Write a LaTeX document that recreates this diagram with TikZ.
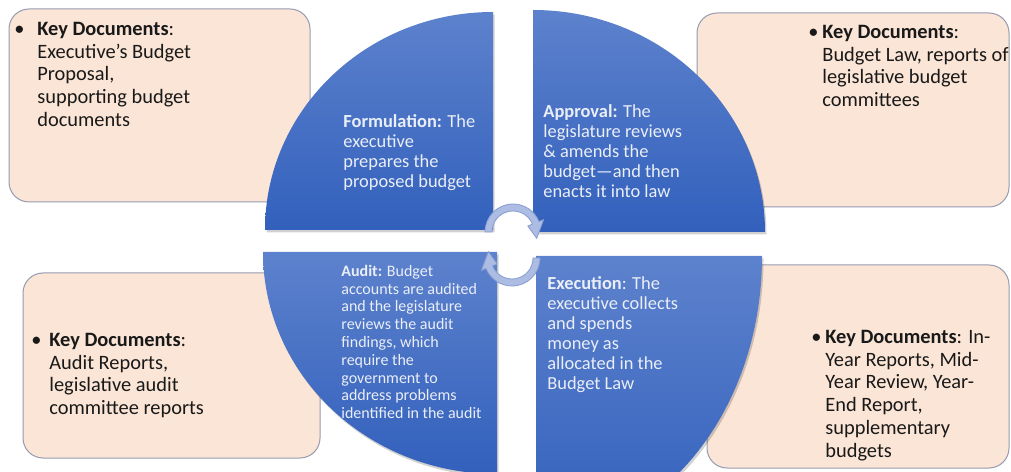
\documentclass[tikz,border=0pt]{standalone}
\usepackage{fontspec}
\setmainfont{Carlito}
\definecolor{peach}{RGB}{251,229,214}
\definecolor{peachline}{RGB}{150,155,178}
\definecolor{qtop}{RGB}{93,130,205}
\definecolor{qbot}{RGB}{50,96,188}
\definecolor{qtext}{RGB}{234,238,247}
\definecolor{arrfill}{RGB}{172,188,226}
\definecolor{arrline}{RGB}{135,156,208}
\newcommand\Lines[1]{\begin{tabular}[t]{@{}l@{}}#1\end{tabular}}
\newcommand\Bul[1]{\llap{\makebox[#1][l]{•}}}
\tikzset{
  docbox/.style={fill=peach, draw=peachline, line width=0.5pt, rounded corners=10pt},
  quad/.style={top color=qtop, bottom color=qbot, draw=none},
  qshadow/.style={fill=black, opacity=0.18},
  doctext/.style={anchor=base west, inner sep=0pt, font=\fontsize{10.2}{11.35}\selectfont, text=black!90},
  qtxt/.style={anchor=base west, inner sep=0pt, font=\fontsize{9.2}{10}\selectfont, text=qtext},
  audtxt/.style={anchor=base west, inner sep=0pt, font=\fontsize{8}{8.9}\selectfont, text=qtext},
  cyc/.style={fill=arrfill, draw=arrline, line width=0.4pt},
}
\begin{document}
\begin{tikzpicture}[x=0.5pt,y=0.5pt]
\path[use as bounding box] (0,0) rectangle (1011,471);
\clip (0,0) rectangle (1011,471);
\fill[white] (0,0) rectangle (1011,471);
% document boxes
\path[docbox] (9,269) rectangle (310,462);
\path[docbox] (697,264) rectangle (1009,458);
\path[docbox] (23,13) rectangle (320,198);
\path[docbox] (707,3) rectangle (1009,206);
% shadows of quadrants
\begin{scope}[shift={(1.5,-2.5)}]
\fill[qshadow] (493,241) -- (265,241) arc[start angle=180,end angle=90,x radius=228,y radius=218] -- cycle;
\fill[qshadow] (533,239) -- (533,461) arc[start angle=90,end angle=0,x radius=232,y radius=222] -- cycle;
\fill[qshadow] (497,219) -- (263,219) arc[start angle=180,end angle=270,x radius=234,y radius=222] -- cycle;
\fill[qshadow] (536,215) -- (762,215) arc[start angle=0,end angle=-90,x radius=226,y radius=280] -- cycle;
\end{scope}
% quadrants
\shade[quad] (493,241) -- (265,241) arc[start angle=180,end angle=90,x radius=228,y radius=218] -- cycle;
\shade[quad] (533,239) -- (533,461) arc[start angle=90,end angle=0,x radius=232,y radius=222] -- cycle;
\shade[quad] (497,219) -- (263,219) arc[start angle=180,end angle=270,x radius=234,y radius=222] -- cycle;
\shade[quad] (536,215) -- (762,215) arc[start angle=0,end angle=-90,x radius=226,y radius=280] -- cycle;
% quadrant texts
\node[qtxt] (form) at (343,343) {\Lines{\textbf{Formulation:} The\\executive\\prepares the\\proposed budget}};
\node[qtxt] (appr) at (543,353) {\Lines{\textbf{Approval:} The\\legislature reviews\\\& amends the\\budget—and then\\enacts it into law}};
\node[audtxt] (audit) at (341,194.6) {\Lines{\textbf{Audit:} Budget\\accounts are audited\\and the legislature\\reviews the audit\\findings, which\\require the\\government to\\address problems\\identified in the audit}};
\node[qtxt] (exec) at (547,181) {\Lines{\textbf{Execution}: The\\executive collects\\and spends\\money as\\allocated in the\\Budget Law}};
% key documents texts
\node[doctext] (kd1) at (37,435.4) {\Lines{\Bul{11.5pt}\textbf{Key Documents}:\\Executive’s Budget\\Proposal,\\supporting budget\\documents}};
\node[doctext] (kd2) at (822,432.4) {\Lines{\Bul{7pt}\textbf{Key Documents}:\\Budget Law, reports of\\legislative budget\\committees}};
\node[doctext] (kd4) at (49,124.4) {\Lines{\Bul{9pt}\textbf{Key Documents}:\\Audit Reports,\\legislative audit\\committee reports}};
\node[doctext] (kd3) at (825,127.4) {\Lines{\Bul{7pt}\textbf{Key Documents}: In-\\Year Reports, Mid-\\Year Review, Year-\\End Report,\\supplementary\\budgets}};
% cycle arrows
\begin{scope}[shift={(513,239)}]
\path[cyc] (180:28) arc[start angle=180,end angle=22,radius=28] -- (22:33) -- (-15:24.5) -- (22:16) -- (22:21) arc[start angle=22,end angle=180,radius=21] -- cycle;
\end{scope}
\begin{scope}[shift={(512,213)}]
\path[cyc] (0:28) arc[start angle=0,end angle=-158,radius=28] -- (-158:33) -- (-195:24.5) -- (-158:16) -- (-158:21) arc[start angle=-158,end angle=0,radius=21] -- cycle;
\end{scope}
\end{tikzpicture}
\end{document}
